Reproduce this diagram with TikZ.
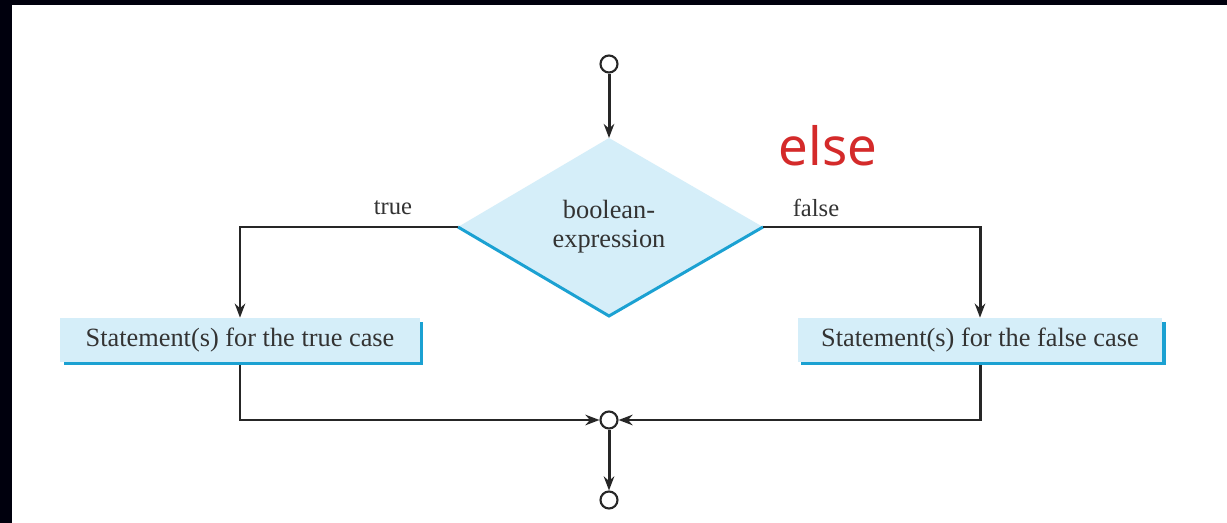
\documentclass[tikz,border=0pt]{standalone}
\usepackage{fontspec}
\setmainfont{Liberation Serif}
\newfontfamily\handfont{Noto Sans}
\usepackage{tikz}
\usetikzlibrary{arrows.meta,calc,shadows,positioning}
\definecolor{boxfill}{HTML}{D5EEF9}
\definecolor{boxedge}{HTML}{1BA1D2}
\definecolor{inktext}{HTML}{333333}
\definecolor{noteRed}{HTML}{D42A2A}

\begin{document}
\begin{tikzpicture}[x=0.02cm,y=-0.02cm,
  flow/.style={line width=1.7pt,draw=black!85,-{Stealth[length=8pt,width=6pt]}},
  circ/.style={circle,draw=black!85,line width=1.2pt,fill=white,minimum size=0.34cm,inner sep=0pt},
  stmt/.style={fill=boxfill,minimum height=0.88cm,inner sep=0pt,text=inktext,
    font=\fontsize{15}{17}\selectfont,
    drop shadow={fill=boxedge,opacity=1,shadow xshift=0.07cm,shadow yshift=-0.07cm}},
  lbl/.style={text=inktext,font=\fontsize{14}{16}\selectfont}]
  % frame of the screenshot
  \useasboundingbox (0,0) rectangle (1227,523);
  \fill[white] (0,0) rectangle (1227,523);
  \fill[black!95!blue] (0,0) rectangle (1227,5);
  \fill[black!95!blue] (0,0) rectangle (12,523);
  % decision
  \coordinate (dt) at (609,138); \coordinate (dl) at (458,227);
  \coordinate (dr) at (763,227); \coordinate (db) at (609,316);
  \fill[boxfill] (dt)--(dr)--(db)--(dl)--cycle;
  \draw[boxedge,line width=1.7pt] (dl)--(db)--(dr);
  \node[lbl,align=center,font=\fontsize{15}{16.5}\selectfont] (cond) at (609,227) {boolean-\\expression};
  % terminals
  \node[circ] (start) at (609,64) {};
  \node[circ] (merge) at (609,420) {};
  \node[circ] (stop) at (609,500) {};
  % statements
  \node[stmt,minimum width=7.2cm] (strue) at (240,340) {Statement(s) for the true case};
  \node[stmt,minimum width=7.3cm] (sfalse) at (980,340) {Statement(s) for the false case};
  % connectors
  \draw[flow] (start) -- (dt);
  \draw[flow] (dl) -| (strue.north);
  \draw[flow] (dr) -| (sfalse.north);
  \draw[flow] ($(strue.south)+(0,3)$) |- (merge.west);
  \draw[flow] ($(sfalse.south)+(0,3)$) |- (merge.east);
  \draw[flow] (merge) -- (stop);
  \node[lbl] (ltrue) at (393,208) {true};
  \node[lbl] (lfalse) at (816,208) {false};
  % hand note
  \node[text=noteRed,font=\handfont\fontsize{30}{30}\selectfont] (note) at (828,146) {else};
\end{tikzpicture}
\end{document}
